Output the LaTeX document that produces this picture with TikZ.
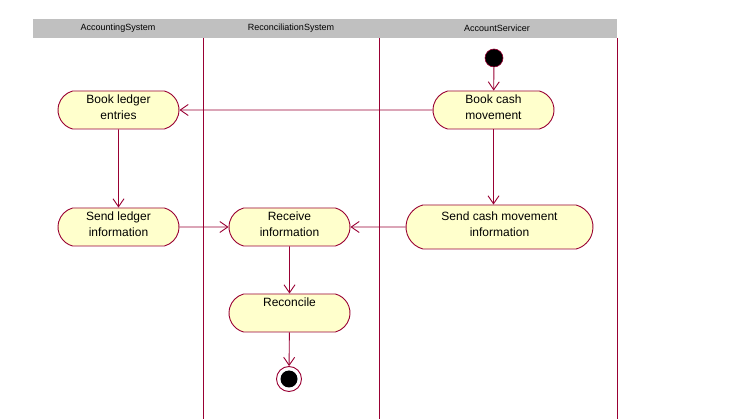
\documentclass[tikz,border=0pt]{standalone}
\usepackage{fontspec}
\setmainfont{Liberation Sans}
\usetikzlibrary{shapes.misc,arrows.meta}
\definecolor{umlline}{RGB}{153,0,51}
\definecolor{umlfill}{RGB}{255,255,204}
\definecolor{hdr}{RGB}{192,192,192}
\newcommand\acttext[1]{\raisebox{1.5pt}[\height][\depth]{\begin{tabular}{@{}c@{}}#1\end{tabular}}}
\tikzset{
  act/.style={rounded rectangle, rounded rectangle arc length=150, draw=umlline, fill=umlfill,
    line width=0.9pt, minimum width=121pt, minimum height=38pt, inner sep=0pt, align=center,
    font=\fontsize{12}{16}\selectfont},
  flow/.style={draw=umlline, line width=0.9pt, -{Straight Barb[length=8pt,width=11pt,line width=0.9pt]}},
  lane/.style={draw=umlline, line width=0.9pt},
  hdrtext/.style={font=\fontsize{9}{10}\selectfont},
}
\begin{document}
\begin{tikzpicture}[x=1pt,y=-1pt]
\path[use as bounding box, fill=white] (0,0) rectangle (734,419);
\fill[hdr] (33,19) rectangle (617,38);
\node[hdrtext] (h1) at (118,28.5) {AccountingSystem};
\node[hdrtext] (h2) at (291,28.5) {ReconciliationSystem};
\node[hdrtext] (h3) at (497,28.5) {AccountServicer};
\coordinate (l1t) at (203,38); \coordinate (l1b) at (203,419);
\coordinate (l2t) at (379,38); \coordinate (l2b) at (379,419);
\coordinate (l3t) at (617,38); \coordinate (l3b) at (617,419);
\draw[lane] (l1t) -- (l1b);
\draw[lane] (l2t) -- (l2b);
\draw[lane] (l3t) -- (l3b);

\node[circle, fill=black, draw=umlline, line width=0.6pt, minimum size=18pt, inner sep=0pt] (start) at (494,58) {};
\node[act] (bce) at (493.5,110) {\acttext{Book cash\\movement}};
\node[act] (ble) at (118.5,110) {\acttext{Book ledger\\entries}};
\node[act] (sli) at (118.5,227) {\acttext{Send ledger\\information}};
\node[act] (rci) at (289.5,227) {\acttext{Receive\\information}};
\node[act, minimum width=187pt, minimum height=44pt] (scm) at (499.5,227) {\acttext{Send cash movement\\information}};
\node[act] (rec) at (289.5,313) {\acttext{Reconcile\\\mbox{}}};
\node[circle, draw=umlline, line width=0.9pt, minimum size=25pt, inner sep=0pt] (end) at (289,379) {};
\node[circle, fill=black, minimum size=17pt, inner sep=0pt] (endin) at (289,379) {};

\draw[flow] (start) -- (bce);
\draw[flow] (bce) -- (ble);
\draw[flow] (ble) -- (sli);
\draw[flow] (bce.south -| 493.5,0) -- (scm.north -| 493.5,0);
\draw[flow] (sli) -- (rci);
\draw[flow] (scm) -- (rci);
\draw[flow] (rci) -- (rec);
\draw[flow] (rec) -- (end);
\end{tikzpicture}
\end{document}
